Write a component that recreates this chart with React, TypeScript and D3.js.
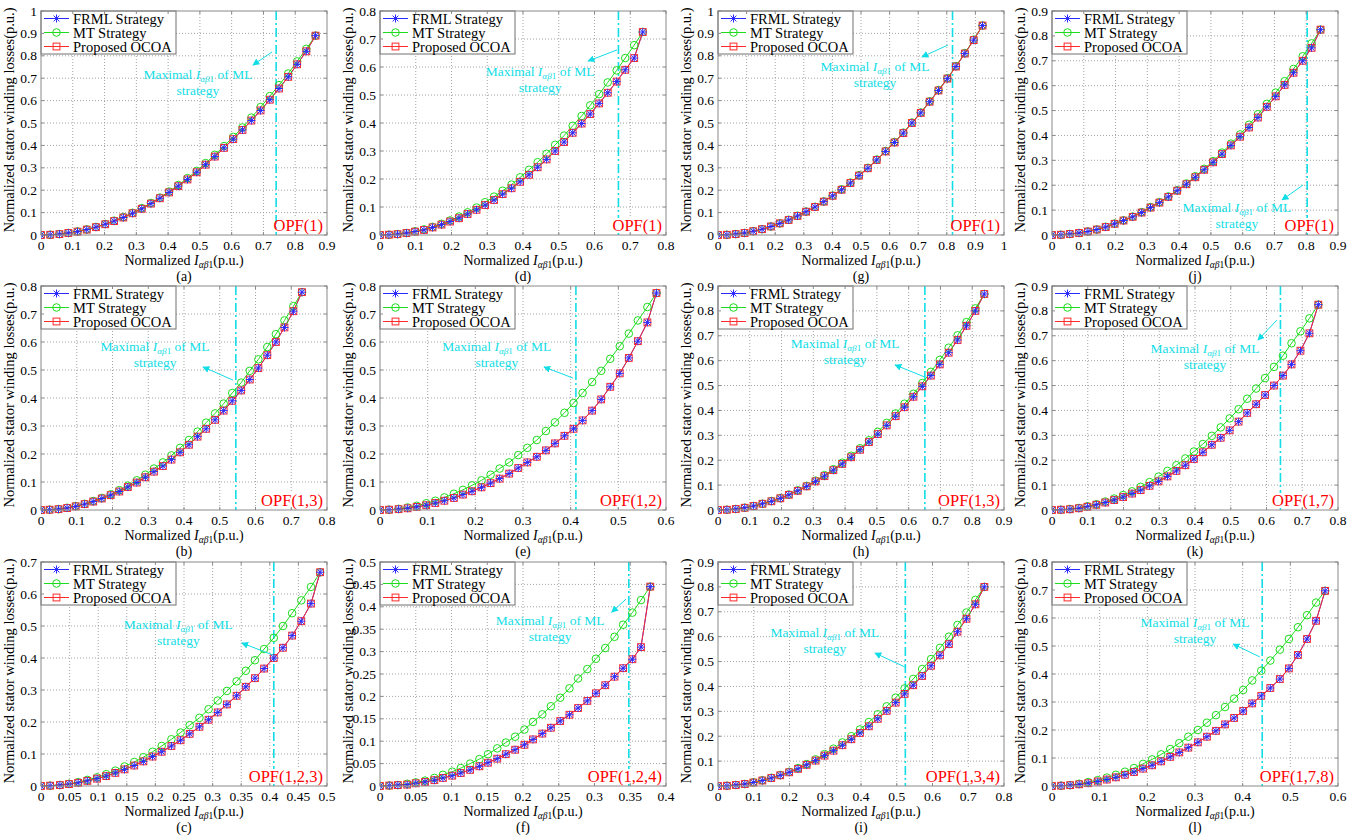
import React from 'react';
import * as d3 from 'd3';

// ---------- data ----------
const xA = [0,0.029,0.058,0.086,0.115,0.144,0.173,0.202,0.230,0.259,0.288,0.317,0.346,0.374,0.403,0.432,0.461,0.490,0.518,0.547,0.576,0.605,0.634,0.662,0.691,0.720,0.749,0.778,0.806,0.835,0.864];
const frmlA = [0,0.001,0.004,0.009,0.015,0.024,0.035,0.048,0.062,0.078,0.097,0.117,0.140,0.164,0.190,0.218,0.248,0.280,0.314,0.350,0.389,0.428,0.469,0.511,0.556,0.604,0.654,0.706,0.762,0.820,0.890];
const mtA = [0,0.001,0.004,0.009,0.016,0.025,0.036,0.049,0.064,0.080,0.099,0.120,0.143,0.167,0.194,0.223,0.254,0.286,0.321,0.358,0.397,0.438,0.480,0.524,0.571,0.620,0.669,0.721,0.775,0.831,0.890];
const ocoaA = [0,0.001,0.004,0.009,0.015,0.024,0.035,0.048,0.062,0.078,0.097,0.117,0.140,0.164,0.190,0.218,0.248,0.280,0.314,0.350,0.389,0.428,0.469,0.511,0.556,0.604,0.654,0.706,0.762,0.820,0.890];

const xB = [0,0.024,0.049,0.073,0.097,0.122,0.146,0.170,0.195,0.219,0.243,0.268,0.292,0.316,0.341,0.365,0.389,0.414,0.438,0.462,0.487,0.511,0.535,0.560,0.584,0.608,0.633,0.657,0.681,0.706,0.730];
const frmlB = [0,0.001,0.003,0.007,0.013,0.021,0.030,0.041,0.053,0.066,0.082,0.098,0.117,0.137,0.157,0.180,0.206,0.233,0.262,0.290,0.322,0.355,0.390,0.427,0.466,0.507,0.553,0.600,0.652,0.710,0.778];
const mtB = [0,0.001,0.003,0.008,0.014,0.022,0.032,0.043,0.056,0.071,0.087,0.106,0.126,0.148,0.170,0.195,0.222,0.250,0.280,0.312,0.345,0.380,0.418,0.455,0.497,0.538,0.582,0.628,0.677,0.728,0.778];
const ocoaB = frmlB.slice();

const xC = [0,0.016,0.033,0.049,0.065,0.081,0.098,0.114,0.130,0.146,0.163,0.179,0.195,0.211,0.228,0.244,0.260,0.277,0.293,0.309,0.325,0.342,0.358,0.374,0.390,0.407,0.423,0.439,0.455,0.472,0.488];
const frmlC = [0,0.001,0.003,0.006,0.010,0.016,0.023,0.031,0.041,0.052,0.064,0.077,0.092,0.107,0.125,0.143,0.163,0.185,0.207,0.230,0.255,0.282,0.310,0.337,0.367,0.400,0.432,0.470,0.515,0.570,0.668];
const mtC = [0,0.001,0.003,0.007,0.012,0.019,0.027,0.037,0.048,0.061,0.075,0.090,0.107,0.125,0.146,0.167,0.190,0.213,0.240,0.267,0.297,0.327,0.360,0.393,0.428,0.463,0.500,0.540,0.580,0.622,0.668];
const ocoaC = frmlC.slice();

const xD = [0,0.025,0.049,0.074,0.098,0.123,0.147,0.172,0.196,0.221,0.245,0.270,0.294,0.319,0.343,0.368,0.392,0.417,0.441,0.466,0.490,0.515,0.539,0.564,0.588,0.613,0.637,0.662,0.686,0.711,0.735];
const frmlD = [0,0.001,0.003,0.007,0.012,0.018,0.027,0.037,0.048,0.060,0.075,0.090,0.107,0.125,0.146,0.167,0.190,0.215,0.242,0.270,0.300,0.332,0.365,0.398,0.432,0.470,0.508,0.548,0.590,0.632,0.725];
const mtD = [0,0.001,0.003,0.007,0.013,0.020,0.029,0.040,0.052,0.066,0.081,0.098,0.117,0.137,0.158,0.180,0.206,0.233,0.260,0.290,0.322,0.355,0.390,0.425,0.463,0.503,0.545,0.588,0.632,0.678,0.725];
const ocoaD = frmlD.slice();

const xE = [0,0.019,0.039,0.058,0.077,0.097,0.116,0.135,0.155,0.174,0.193,0.213,0.232,0.251,0.271,0.290,0.309,0.329,0.348,0.367,0.387,0.406,0.425,0.445,0.464,0.483,0.503,0.522,0.541,0.561,0.580];
const frmlE = [0,0.001,0.003,0.006,0.011,0.017,0.025,0.033,0.043,0.055,0.067,0.081,0.096,0.112,0.130,0.150,0.170,0.190,0.213,0.238,0.265,0.290,0.320,0.355,0.395,0.440,0.488,0.543,0.603,0.670,0.775];
const mtE = [0,0.001,0.004,0.009,0.015,0.024,0.033,0.045,0.058,0.072,0.088,0.106,0.126,0.148,0.170,0.196,0.222,0.250,0.282,0.313,0.347,0.382,0.418,0.457,0.497,0.540,0.585,0.630,0.677,0.725,0.775];
const ocoaE = frmlE.slice();

const xF = [0,0.013,0.025,0.038,0.050,0.063,0.076,0.088,0.101,0.113,0.126,0.139,0.151,0.164,0.176,0.189,0.202,0.214,0.227,0.239,0.252,0.265,0.277,0.290,0.302,0.315,0.328,0.340,0.353,0.365,0.378];
const frmlF = [0,0.001,0.002,0.003,0.006,0.009,0.013,0.018,0.023,0.029,0.036,0.044,0.052,0.061,0.071,0.081,0.092,0.104,0.117,0.130,0.145,0.159,0.174,0.190,0.207,0.225,0.244,0.263,0.283,0.310,0.445];
const mtF = [0,0.001,0.002,0.005,0.008,0.012,0.018,0.025,0.032,0.040,0.050,0.060,0.071,0.084,0.097,0.110,0.126,0.143,0.160,0.178,0.197,0.218,0.240,0.261,0.284,0.308,0.333,0.360,0.387,0.415,0.445];
const ocoaF = frmlF.slice();

const xG = [0,0.031,0.062,0.093,0.123,0.154,0.185,0.216,0.247,0.278,0.308,0.339,0.370,0.401,0.432,0.463,0.493,0.524,0.555,0.586,0.617,0.648,0.678,0.709,0.740,0.771,0.802,0.832,0.863,0.894,0.925];
const frmlG = [0,0.001,0.004,0.009,0.017,0.026,0.038,0.052,0.067,0.085,0.104,0.125,0.149,0.175,0.202,0.232,0.265,0.298,0.335,0.373,0.413,0.455,0.500,0.545,0.595,0.645,0.698,0.752,0.810,0.870,0.935];
const mtG = [0,0.001,0.004,0.009,0.017,0.026,0.038,0.052,0.068,0.086,0.105,0.126,0.150,0.176,0.204,0.234,0.267,0.300,0.337,0.375,0.415,0.457,0.502,0.547,0.597,0.647,0.700,0.754,0.812,0.872,0.935];
const ocoaG = frmlG.slice();

const xH = [0,0.028,0.056,0.084,0.112,0.140,0.168,0.196,0.223,0.251,0.279,0.307,0.335,0.363,0.391,0.419,0.447,0.475,0.503,0.531,0.559,0.587,0.615,0.643,0.670,0.698,0.726,0.754,0.782,0.810,0.838];
const frmlH = [0,0.001,0.004,0.009,0.016,0.025,0.035,0.047,0.061,0.077,0.095,0.115,0.136,0.160,0.185,0.212,0.242,0.273,0.305,0.340,0.377,0.413,0.455,0.497,0.540,0.585,0.632,0.683,0.740,0.800,0.868];
const mtH = [0,0.001,0.004,0.009,0.016,0.025,0.036,0.048,0.062,0.079,0.097,0.118,0.140,0.164,0.190,0.218,0.248,0.280,0.314,0.350,0.388,0.427,0.467,0.510,0.555,0.603,0.652,0.702,0.755,0.810,0.868];
const ocoaH = frmlH.slice();

const xI = [0,0.025,0.050,0.075,0.099,0.124,0.149,0.174,0.199,0.224,0.248,0.273,0.298,0.323,0.348,0.373,0.397,0.422,0.447,0.472,0.497,0.522,0.546,0.571,0.596,0.621,0.646,0.670,0.695,0.720,0.745];
const frmlI = [0,0.001,0.004,0.008,0.014,0.022,0.032,0.043,0.055,0.069,0.085,0.102,0.122,0.142,0.164,0.188,0.213,0.240,0.270,0.302,0.335,0.370,0.405,0.442,0.483,0.525,0.570,0.620,0.672,0.730,0.800];
const mtI = [0,0.001,0.004,0.008,0.015,0.023,0.033,0.044,0.057,0.072,0.088,0.107,0.128,0.150,0.175,0.200,0.227,0.257,0.288,0.320,0.355,0.392,0.430,0.470,0.510,0.555,0.600,0.647,0.697,0.748,0.800];
const ocoaI = frmlI.slice();

const xJ = [0,0.028,0.056,0.085,0.113,0.141,0.169,0.197,0.225,0.254,0.282,0.310,0.338,0.366,0.394,0.423,0.451,0.479,0.507,0.535,0.563,0.592,0.620,0.648,0.676,0.704,0.732,0.760,0.789,0.817,0.845];
const frmlJ = [0,0.001,0.004,0.008,0.014,0.022,0.032,0.045,0.058,0.073,0.090,0.110,0.130,0.153,0.178,0.204,0.232,0.262,0.292,0.325,0.360,0.395,0.432,0.472,0.515,0.557,0.603,0.652,0.700,0.752,0.825];
const mtJ = [0,0.001,0.004,0.008,0.014,0.022,0.033,0.046,0.059,0.074,0.092,0.112,0.132,0.155,0.180,0.207,0.236,0.266,0.297,0.331,0.367,0.404,0.443,0.485,0.527,0.572,0.618,0.667,0.718,0.770,0.825];
const ocoaJ = frmlJ.slice();

const xK = [0,0.025,0.050,0.075,0.099,0.124,0.149,0.174,0.199,0.224,0.248,0.273,0.298,0.323,0.348,0.373,0.397,0.422,0.447,0.472,0.497,0.522,0.546,0.571,0.596,0.621,0.646,0.670,0.695,0.720,0.745];
const frmlK = [0,0.001,0.003,0.007,0.013,0.021,0.030,0.040,0.052,0.066,0.080,0.097,0.115,0.135,0.157,0.180,0.205,0.232,0.262,0.290,0.320,0.355,0.390,0.425,0.462,0.500,0.540,0.585,0.640,0.710,0.825];
const mtK = [0,0.001,0.004,0.008,0.015,0.023,0.034,0.046,0.060,0.075,0.093,0.112,0.134,0.157,0.180,0.207,0.235,0.265,0.298,0.332,0.368,0.405,0.447,0.488,0.530,0.575,0.620,0.670,0.718,0.770,0.825];
const ocoaK = frmlK.slice();

const xL = [0,0.019,0.038,0.057,0.076,0.096,0.115,0.134,0.153,0.172,0.191,0.210,0.229,0.248,0.267,0.286,0.306,0.325,0.344,0.363,0.382,0.401,0.420,0.439,0.458,0.478,0.497,0.516,0.535,0.554,0.573];
const frmlL = [0,0.001,0.003,0.006,0.010,0.016,0.023,0.031,0.040,0.050,0.062,0.074,0.088,0.104,0.120,0.137,0.156,0.176,0.197,0.220,0.243,0.268,0.295,0.322,0.350,0.382,0.420,0.468,0.525,0.590,0.697];
const mtL = [0,0.001,0.003,0.008,0.014,0.021,0.030,0.040,0.051,0.064,0.079,0.095,0.113,0.132,0.153,0.176,0.200,0.226,0.253,0.282,0.312,0.343,0.377,0.412,0.448,0.487,0.525,0.567,0.610,0.655,0.697];
const ocoaL = frmlL.slice();

const panelIds = ['a','b','c','d','e','f','g','h','i','j','k','l'];
const opfLabels = ['OPF(1)','OPF(1,3)','OPF(1,2,3)','OPF(1)','OPF(1,2)','OPF(1,2,4)','OPF(1)','OPF(1,3)','OPF(1,3,4)','OPF(1)','OPF(1,7)','OPF(1,7,8)'];
const xMaxes = [0.9,0.8,0.5,0.8,0.6,0.4,1,0.9,0.8,0.9,0.8,0.6];
const xSteps = [0.1,0.1,0.05,0.1,0.1,0.05,0.1,0.1,0.1,0.1,0.1,0.1];
const yMaxes = [1,0.8,0.7,0.8,0.8,0.5,1,0.9,0.9,0.9,0.9,0.8];
const ySteps = [0.1,0.1,0.1,0.1,0.1,0.05,0.1,0.1,0.1,0.1,0.1,0.1];
const mlLimits = [0.74,0.545,0.407,0.667,0.411,0.348,0.82,0.651,0.524,0.803,0.639,0.441];
const legendNames = ['FRML Strategy','MT Strategy','Proposed OCOA'];
const xSets = [xA,xB,xC,xD,xE,xF,xG,xH,xI,xJ,xK,xL];
const frmlSets = [frmlA,frmlB,frmlC,frmlD,frmlE,frmlF,frmlG,frmlH,frmlI,frmlJ,frmlK,frmlL];
const mtSets = [mtA,mtB,mtC,mtD,mtE,mtF,mtG,mtH,mtI,mtJ,mtK,mtL];
const ocoaSets = [ocoaA,ocoaB,ocoaC,ocoaD,ocoaE,ocoaF,ocoaG,ocoaH,ocoaI,ocoaJ,ocoaK,ocoaL];
// annotation anchor (data units): text centre, arrow tail, arrow head
const noteText = [[0.494,0.714],[0.319,0.582],[0.240,0.503],[0.448,0.582],[0.245,0.582],[0.238,0.368],[0.549,0.750],[0.400,0.667],[0.299,0.615],[0.582,0.108],[0.428,0.647],[0.300,0.582]];
const noteTail = [[0.727,0.817],[0.537,0.464],[0.406,0.409],[0.663,0.661],[0.405,0.471],[0.344,0.417],[0.804,0.848],[0.651,0.534],[0.523,0.478],[0.790,0.201],[0.629,0.763],[0.436,0.461]];
const noteHead = [[0.667,0.759],[0.453,0.511],[0.351,0.447],[0.582,0.621],[0.344,0.511],[0.324,0.388],[0.713,0.795],[0.557,0.583],[0.439,0.534],[0.724,0.141],[0.576,0.683],[0.380,0.507]];

// ---------- layout / style ----------
const W = 1363, H = 837;
const LEFTS = [41, 380, 718, 1052];
const TOPS = [11, 286, 562];
const PW = 286, PH = 224;
const FONT = "'Liberation Serif', 'Times New Roman', serif";
const C_BLUE = '#2a2aff';
const C_GREEN = '#1edc1e';
const C_RED = '#ff2a2a';
const C_CYAN = '#12dde6';
const C_AXIS = '#8a8a8a';
const C_GRID = '#9a9a9a';
const TICK_FS = 13.5;
const LABEL_FS = 14;

const fmt = (v: number) => String(Math.round(v * 1000) / 1000);

function Star({ cx, cy, r, color }: { cx: number; cy: number; r: number; color: string }) {
  const d = r * 0.72;
  return (
    <path
      d={`M${cx - r},${cy}H${cx + r}M${cx},${cy - r}V${cy + r}M${cx - d},${cy - d}L${cx + d},${cy + d}M${cx - d},${cy + d}L${cx + d},${cy - d}`}
      stroke={color}
      strokeWidth={1}
      fill="none"
    />
  );
}

function Sub({ size }: { size: number }) {
  return (
    <>
      <tspan fontStyle="italic">I</tspan>
      <tspan fontStyle="italic" fontSize={size * 0.68} dy={size * 0.22}>αβ</tspan>
      <tspan fontSize={size * 0.68}>1</tspan>
    </>
  );
}

function Panel({ k }: { k: number }) {
  const col = Math.floor(k / 3);
  const row = k % 3;
  const left = LEFTS[col];
  const top = TOPS[row];
  const bottom = top + PH;
  const right = left + PW;
  const xMax = xMaxes[k], yMax = yMaxes[k];
  const x = d3.scaleLinear().domain([0, xMax]).range([left, right]);
  const y = d3.scaleLinear().domain([0, yMax]).range([bottom, top]);
  const xt = d3.range(0, xMax + xSteps[k] / 2, xSteps[k]);
  const yt = d3.range(0, yMax + ySteps[k] / 2, ySteps[k]);
  const xs = xSets[k];
  const line = d3.line<number>().x((_, i) => x(xs[i])).y((d) => y(d));
  const frml = frmlSets[k], mt = mtSets[k], ocoa = ocoaSets[k];
  const opf = opfLabels[k];
  const opfW = opf.length * 7.4;
  const tx = x(noteText[k][0]), ty = y(noteText[k][1]);
  const clipId = `clip-${panelIds[k]}`;

  return (
    <g>
      <defs>
        <clipPath id={clipId}>
          <rect x={left} y={top - 6} width={PW + 6} height={PH + 12} />
        </clipPath>
      </defs>
      <rect x={left} y={top} width={PW} height={PH} fill="#fff" />
      {/* grid */}
      {xt.slice(1, -1).map((v, i) => (
        <line key={'gx' + i} x1={x(v)} x2={x(v)} y1={top} y2={bottom} stroke={C_GRID} strokeWidth={0.9} strokeDasharray="1 2" />
      ))}
      {yt.slice(1, -1).map((v, i) => (
        <line key={'gy' + i} x1={left} x2={right} y1={y(v)} y2={y(v)} stroke={C_GRID} strokeWidth={0.9} strokeDasharray="1 2" />
      ))}
      {/* ML limit */}
      <line x1={x(mlLimits[k])} x2={x(mlLimits[k])} y1={top} y2={bottom} stroke={C_CYAN} strokeWidth={1.6} strokeDasharray="9 3 2 3" />
      {/* series */}
      <g clipPath={`url(#${clipId})`}>
        <path d={line(frml) || ''} fill="none" stroke={C_BLUE} strokeWidth={1} />
        <path d={line(mt) || ''} fill="none" stroke={C_GREEN} strokeWidth={1} />
        <path d={line(ocoa) || ''} fill="none" stroke={C_RED} strokeWidth={1} />
        {mt.map((d, i) => (
          <circle key={'m' + i} cx={x(xs[i])} cy={y(d)} r={3.8} fill="none" stroke={C_GREEN} strokeWidth={1} />
        ))}
        {ocoa.map((d, i) => (
          <rect key={'o' + i} x={x(xs[i]) - 3.4} y={y(d) - 3.4} width={6.8} height={6.8} fill="none" stroke={C_RED} strokeWidth={1} />
        ))}
        {frml.map((d, i) => (
          <Star key={'f' + i} cx={x(xs[i])} cy={y(d)} r={4} color={C_BLUE} />
        ))}
      </g>
      {/* annotation */}
      <text x={tx} y={ty + 4} textAnchor="middle" fontFamily={FONT} fontSize={13.5} fill={C_CYAN}>
        <tspan>Maximal </tspan>
        <Sub size={13.5} />
        <tspan dy={-13.5 * 0.22}> of ML</tspan>
      </text>
      <text x={tx} y={ty + 20} textAnchor="middle" fontFamily={FONT} fontSize={13.5} fill={C_CYAN}>strategy</text>
      <line x1={x(noteTail[k][0])} y1={y(noteTail[k][1])} x2={x(noteHead[k][0])} y2={y(noteHead[k][1])} stroke={C_CYAN} strokeWidth={1} markerEnd="url(#arrowHead)" />
      {/* OPF label */}
      <rect x={right - 5 - opfW} y={bottom - 17} width={opfW + 3} height={15} fill="#fff" />
      <text x={right - 4} y={bottom - 4} textAnchor="end" fontFamily={FONT} fontSize={16.5} fill="#ff0000">{opf}</text>
      {/* legend */}
      <rect x={left} y={top} width={135} height={43} fill="#fff" stroke="#707070" strokeWidth={1} />
      {legendNames.map((name, i) => {
        const ly = top + 7.5 + i * 14;
        const color = i === 0 ? C_BLUE : i === 1 ? C_GREEN : C_RED;
        return (
          <g key={name}>
            <line x1={left + 3} x2={left + 28} y1={ly} y2={ly} stroke={color} strokeWidth={1} />
            {i === 0 && <Star cx={left + 15.5} cy={ly} r={4} color={C_BLUE} />}
            {i === 1 && <circle cx={left + 15.5} cy={ly} r={3.8} fill="none" stroke={C_GREEN} />}
            {i === 2 && <rect x={left + 12.1} y={ly - 3.4} width={6.8} height={6.8} fill="none" stroke={C_RED} />}
            <text x={left + 32} y={ly + 5} fontFamily={FONT} fontSize={14.5} fill="#000">{name}</text>
          </g>
        );
      })}
      {/* box and ticks */}
      <rect x={left} y={top} width={PW} height={PH} fill="none" stroke={C_AXIS} strokeWidth={1} />
      {xt.map((v, i) => (
        <g key={'tx' + i}>
          <line x1={x(v)} x2={x(v)} y1={bottom} y2={bottom - 3} stroke={C_AXIS} />
          <line x1={x(v)} x2={x(v)} y1={top} y2={top + 3} stroke={C_AXIS} />
          <text x={x(v)} y={bottom + 15} textAnchor="middle" fontFamily={FONT} fontSize={TICK_FS} fill="#000">{fmt(v)}</text>
        </g>
      ))}
      {yt.map((v, i) => (
        <g key={'ty' + i}>
          <line x1={left} x2={left + 3} y1={y(v)} y2={y(v)} stroke={C_AXIS} />
          <line x1={right} x2={right - 3} y1={y(v)} y2={y(v)} stroke={C_AXIS} />
          <text x={left - 4} y={y(v) + 4.5} textAnchor="end" fontFamily={FONT} fontSize={TICK_FS} fill="#000">{fmt(v)}</text>
        </g>
      ))}
      {/* axis labels */}
      <text x={(left + right) / 2} y={bottom + 30} textAnchor="middle" fontFamily={FONT} fontSize={LABEL_FS} fill="#000">
        <tspan>Normalized </tspan>
        <Sub size={LABEL_FS} />
        <tspan dy={-LABEL_FS * 0.22}>(p.u.)</tspan>
      </text>
      <text
        transform={`translate(${left - 27},${(top + bottom) / 2 - 3}) rotate(-90)`}
        textAnchor="middle"
        fontFamily={FONT}
        fontSize={14.5}
        fill="#000"
      >
        Normalized stator winding losses(p.u.)
      </text>
      <text x={(left + right) / 2} y={bottom + 46} textAnchor="middle" fontFamily={FONT} fontSize={LABEL_FS} fill="#000">
        ({panelIds[k]})
      </text>
    </g>
  );
}

export default function App() {
  return (
    <svg
      width={W}
      height={H}
      viewBox={`0 0 ${W} ${H}`}
      style={{ position: 'absolute', left: 0, top: 0, background: '#fff' }}
    >
      <defs>
        <marker id="arrowHead" viewBox="0 0 10 10" refX="9" refY="5" markerWidth="7" markerHeight="7" markerUnits="userSpaceOnUse" orient="auto">
          <path d="M0,0L10,5L0,10z" fill={C_CYAN} />
        </marker>
      </defs>
      <rect width={W} height={H} fill="#fff" />
      {panelIds.map((_, k) => (
        <Panel key={k} k={k} />
      ))}
    </svg>
  );
}
